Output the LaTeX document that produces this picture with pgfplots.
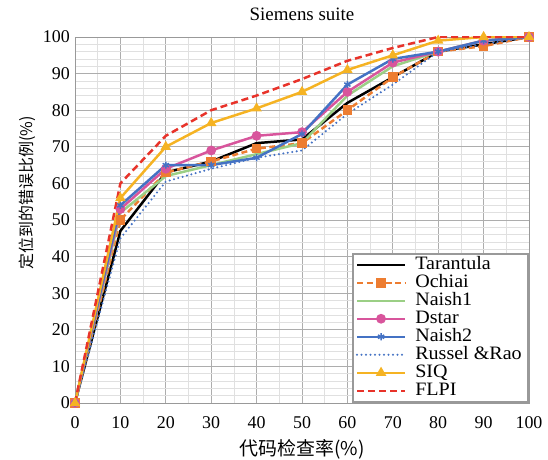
\documentclass[border=0pt]{standalone}
\usepackage{pgfplots}
\pgfplotsset{compat=1.18}
\usetikzlibrary{calc}
\usepackage{fontspec}
\setmainfont{Liberation Serif}
\newfontfamily\tnr{Liberation Serif}
\newfontfamily\tnrw[FakeStretch=1.06]{Liberation Serif}
\newfontfamily\cjk{Noto Sans CJK SC}
\definecolor{cTar}{HTML}{000000}
\definecolor{cOch}{HTML}{ED7D31}
\definecolor{cN1}{HTML}{9BCF85}
\definecolor{cDst}{HTML}{D8559C}
\definecolor{cN2}{HTML}{4472C4}
\definecolor{cRR}{HTML}{4472C4}
\definecolor{cSIQ}{HTML}{F5B323}
\definecolor{cFL}{HTML}{E8332A}
\begin{document}
\begin{tikzpicture}
\begin{axis}[
  width=454bp, height=366bp, scale only axis,
  xmin=0, xmax=100, ymin=0, ymax=100,
  xtick={0,10,...,100}, ytick={0,10,...,100},
  minor x tick num=1, minor y tick num=4,
  major tick length=0pt, minor tick length=0pt,
  grid=both,
  major grid style={draw=black!32, line width=0.9pt},
  minor grid style={draw=black!12, line width=0.6pt},
  axis line style={draw=black!40, line width=0.8pt},
  tick label style={font=\tnr\fontsize{18}{20}\selectfont},
  /pgf/number format/assume math mode=true,
  xticklabel style={anchor=base, yshift=-25bp},
  yticklabel style={anchor=east, xshift=-4bp, inner sep=0pt},
  title={\tnr\fontsize{19}{21}\selectfont Siemens suite},
  title style={at={(axis description cs:0.5,1)}, anchor=base, yshift=11bp, inner sep=0pt},
  xlabel={\cjk\fontsize{19}{21}\selectfont 代码检查率(\%)},
  ylabel={\cjk\fontsize{16}{18}\selectfont 定位到的错误比例(\%)},
  xlabel style={at={(axis description cs:0.5,0)}, anchor=center, yshift=-46bp, inner sep=0pt},
  ylabel style={at={(axis description cs:-0.105,0.575)}, anchor=center, inner sep=0pt},
  legend style={at={(1,0)}, anchor=south east, draw=black!40, fill=white,
    font=\tnrw\fontsize{19}{18}\selectfont, cells={anchor=west},
    nodes={text height=13.5bp, text depth=4.3bp, inner ysep=0.1bp, inner xsep=3bp},
    inner xsep=3bp, inner ysep=2bp, row sep=0bp, column sep=6bp},
  legend image code/.code={\draw[mark repeat=2,mark phase=2,#1] plot coordinates {(0bp,0bp) (24bp,0bp) (48bp,0bp)};},
  line width=2.5pt,
  mark size=3.6pt,
]
\addplot[cTar, solid] coordinates {(0,0) (10,47) (20,63) (30,66) (40,71) (50,72) (60,82) (70,89) (80,96) (90,98) (100,100)};
\addlegendentry{Tarantula}
\addplot[cOch, dash pattern=on 6bp off 3.5bp, mark=square*, mark options={solid, fill=cOch}] coordinates {(0,0) (10,50) (20,63) (30,66) (40,69.5) (50,71) (60,80) (70,89) (80,96) (90,97.5) (100,100)};
\addlegendentry{Ochiai}
\addplot[cN1, solid] coordinates {(0,0) (10,52) (20,62) (30,65) (40,68) (50,71) (60,84) (70,92) (80,96) (90,99) (100,100)};
\addlegendentry{Naish1}
\addplot[cDst, solid, mark=*, mark options={fill=cDst}] coordinates {(0,0) (10,53) (20,64) (30,69) (40,73) (50,74) (60,85) (70,93) (80,96) (90,99) (100,100)};
\addlegendentry{Dstar}
\addplot[cN2, solid, mark=asterisk, mark options={line width=1.5pt}] coordinates {(0,0) (10,54) (20,65) (30,65) (40,67) (50,73.5) (60,87) (70,94) (80,96) (90,99) (100,100)};
\addlegendentry{Naish2}
\addplot[cRR, line width=2.3pt, line cap=round, dash pattern=on 0bp off 4.5bp] coordinates {(0,0) (10,45) (20,60.5) (30,64) (40,67) (50,69) (60,79) (70,87) (80,96) (90,98) (100,100)};
\addlegendentry{Russel \&Rao}
\addplot[cSIQ, solid, mark=triangle*, mark options={fill=cSIQ}] coordinates {(0,0) (10,56) (20,70) (30,76.5) (40,80.5) (50,85) (60,91) (70,95) (80,99) (90,100) (100,100)};
\addlegendentry{SIQ}
\addplot[cFL, dash pattern=on 7bp off 4bp] coordinates {(0,0) (10,60) (20,73) (30,80) (40,84) (50,88.5) (60,93.5) (70,97) (80,100) (90,100) (100,100)};
\addlegendentry{FLPI}
\end{axis}
\path ($(current axis.south west)+(-75bp,-57bp)$) rectangle ($(current axis.north east)+(19bp,37bp)$);
\end{tikzpicture}
\end{document}
